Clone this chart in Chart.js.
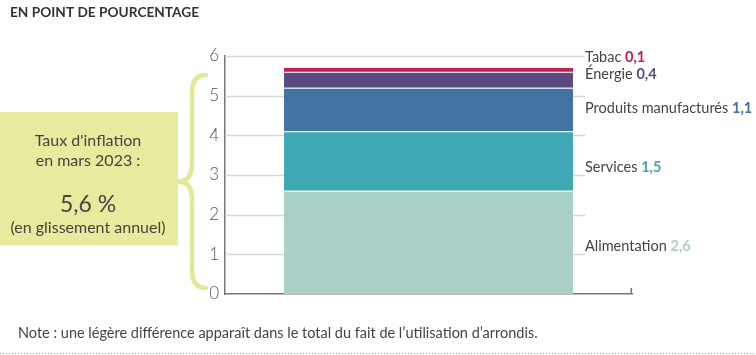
<!DOCTYPE html>
<html><head><meta charset="utf-8">
<script src="https://cdn.jsdelivr.net/npm/chart.js@4/dist/chart.umd.min.js"></script>
<style>html,body{margin:0;padding:0;background:#fff}#wrap{width:756px;height:355px;position:relative}</style>
</head><body><div id="wrap"><canvas id="c" width="756" height="355"></canvas></div>
<script>
const categories = ['Alimentation', 'Services', 'Produits manufacturés', 'Énergie', 'Tabac'];
const values = [2.6, 1.5, 1.1, 0.4, 0.1];
const valueLabels = ['2,6', '1,5', '1,1', '0,4', '0,1'];
const barColors = ['#a9d0c6', '#3ea9b4', '#4273a3', '#5b4a82', '#c2204f'];
const labelColors = ['#a9d0c6', '#3ea9b4', '#4273a3', '#5b4a82', '#c2204f'];
const labelOffsets = [3.5, 6, -1.5, -5, -13];
const yTicks = [0, 1, 2, 3, 4, 5, 6];
const titleText = 'EN POINT DE POURCENTAGE';
const boxLines = ["Taux d'inflation", 'en mars 2023 :', '5,6 %', '(en glissement annuel)'];
const noteText = 'Note : une légère différence apparaît dans le total du fait de l’utilisation d’arrondis.';

const FONT = 'Lato, "Open Sans", sans-serif';

const decor = {
  id: 'decor',
  beforeDatasetsDraw(chart) {
    const ctx = chart.ctx, y = chart.scales.y, area = chart.chartArea;
    const bar = chart.getDatasetMeta(0).data[0];
    const gridEnd = bar.x + bar.width / 2 + 12;
    ctx.save();
    ctx.strokeStyle = '#d8d8d8';
    ctx.lineWidth = 1.5;
    yTicks.forEach(t => {
      if (t === 0) return;
      const py = Math.round(y.getPixelForValue(t)) + 0.5;
      ctx.beginPath(); ctx.moveTo(area.left, py); ctx.lineTo(gridEnd, py); ctx.stroke();
    });
    ctx.restore();
  },
  afterDraw(chart) {
    const ctx = chart.ctx, y = chart.scales.y, area = chart.chartArea;
    ctx.save();
    // title
    ctx.fillStyle = '#333';
    ctx.font = 'bold 13.7px ' + FONT;
    ctx.textBaseline = 'middle';
    ctx.textAlign = 'left';
    ctx.fillText(titleText, 10, 13);
    // x axis end tick
    ctx.strokeStyle = '#777';
    ctx.lineWidth = 1.5;
    ctx.beginPath(); ctx.moveTo(area.right - 0.75, area.bottom); ctx.lineTo(area.right - 0.75, area.bottom - 6); ctx.stroke();
    // right labels
    chart.data.datasets.forEach((ds, i) => {
      const el = chart.getDatasetMeta(i).data[0];
      const cy = (el.y + el.base) / 2 + labelOffsets[i];
      const lx = el.x + el.width / 2 + 12;
      ctx.font = '14.5px ' + FONT;
      ctx.fillStyle = '#444';
      ctx.textAlign = 'left';
      const name = categories[i] + ' ';
      ctx.fillText(name, lx, cy);
      const w = ctx.measureText(name).width;
      ctx.font = 'bold 14.5px ' + FONT;
      ctx.fillStyle = labelColors[i];
      ctx.fillText(valueLabels[i], lx + w, cy);
    });
    // left box
    const boxTop = 112, boxBottom = 245, boxRight = 178;
    ctx.fillStyle = '#e8eb9d';
    ctx.fillRect(0, boxTop, boxRight, boxBottom - boxTop);
    ctx.fillStyle = '#444';
    ctx.textAlign = 'center';
    ctx.font = '16px ' + FONT;
    ctx.fillText(boxLines[0], 88, 141);
    ctx.fillText(boxLines[1], 88, 161);
    ctx.font = '23px ' + FONT;
    ctx.fillText(boxLines[2], 88, 205);
    ctx.font = '16px ' + FONT;
    ctx.fillText(boxLines[3], 88, 228);
    // brace
    const total = values.reduce((a, b) => a + b, 0);
    const top = y.getPixelForValue(total) + 7, bot = y.getPixelForValue(0) - 6;
    const mid = (top + bot) / 2;
    const xe = 206, xv = 192, xt = 178;
    ctx.strokeStyle = '#e3e898';
    ctx.lineWidth = 4.5;
    ctx.lineCap = 'round';
    ctx.beginPath();
    ctx.moveTo(xe, top);
    ctx.quadraticCurveTo(xv, top, xv, top + 18);
    ctx.lineTo(xv, mid - 18);
    ctx.quadraticCurveTo(xv, mid, xt, mid);
    ctx.quadraticCurveTo(xv, mid, xv, mid + 18);
    ctx.lineTo(xv, bot - 18);
    ctx.quadraticCurveTo(xv, bot, xe, bot);
    ctx.stroke();
    // note
    ctx.fillStyle = '#444';
    ctx.textAlign = 'left';
    ctx.font = '14.5px ' + FONT;
    ctx.fillText(noteText, 18, 333);
    // dotted line
    ctx.strokeStyle = '#999';
    ctx.lineWidth = 1;
    ctx.lineCap = 'butt';
    ctx.setLineDash([1, 2]);
    ctx.beginPath(); ctx.moveTo(0, 353.5); ctx.lineTo(756, 353.5); ctx.stroke();
    ctx.restore();
  }
};

new Chart(document.getElementById('c'), {
  type: 'bar',
  data: {
    labels: [''],
    datasets: categories.map((c, i) => ({
      label: c,
      data: [values[i]],
      backgroundColor: barColors[i],
      borderColor: 'rgba(255,255,255,0.35)',
      borderWidth: {top: i === categories.length - 1 ? 0 : 1, left: 0, right: 0, bottom: 0},
      borderSkipped: false,
      barPercentage: 0.71,
      categoryPercentage: 1
    }))
  },
  options: {
    responsive: false,
    animation: false,
    layout: {padding: {left: 0, right: 124, top: 56, bottom: 61}},
    plugins: {legend: {display: false}, tooltip: {enabled: false}},
    scales: {
      x: {
        stacked: true,
        grid: {display: false},
        ticks: {display: false},
        border: {display: true, color: '#777', width: 1.5},
        afterFit: s => { s.height = 0; }
      },
      y: {
        stacked: true,
        min: 0, max: 6,
        afterBuildTicks: s => { s.ticks = yTicks.map(v => ({value: v})); },
        ticks: {color: '#555', font: {family: FONT, size: 17, weight: 300}, padding: 6},
        grid: {display: false, drawTicks: false},
        border: {display: true, color: '#777', width: 1.5},
        afterFit: s => { s.width = 225; }
      }
    }
  },
  plugins: [decor]
});
</script></body></html>
